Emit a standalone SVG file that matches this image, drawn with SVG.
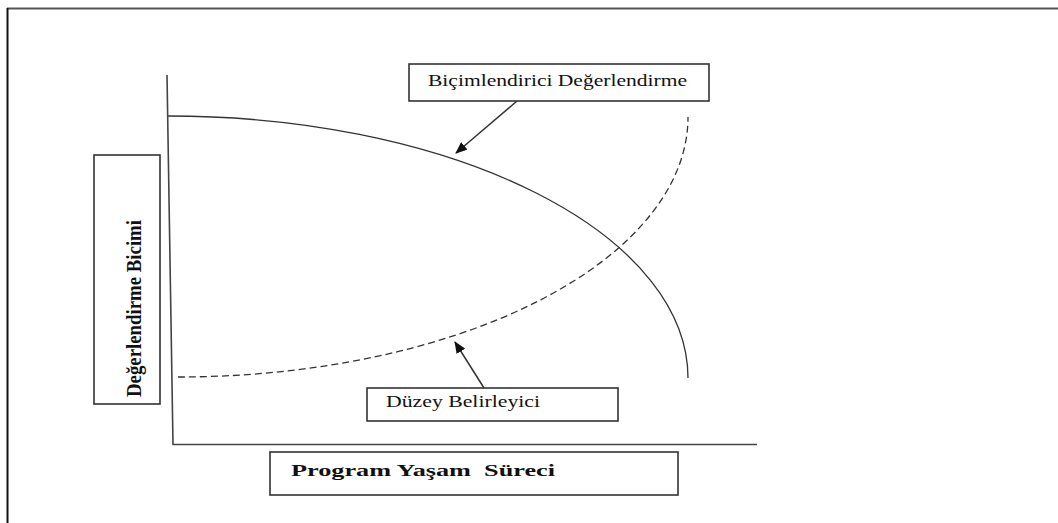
<svg xmlns="http://www.w3.org/2000/svg" width="1058" height="523" viewBox="0 0 1058 523">
  <defs>
    <marker id="arrowhead" viewBox="0 0 12 10" refX="11" refY="5" markerWidth="12" markerHeight="10" markerUnits="userSpaceOnUse" orient="auto">
      <path d="M0,0 L12,5 L0,10 Z" fill="#111"/>
    </marker>
    <style>
      .box { fill: #fff; stroke: #333; stroke-width: 1.6; }
      .axis { fill: none; stroke: #444; stroke-width: 1.6; }
      .curve { fill: none; stroke: #333; stroke-width: 1.3; }
      .dashed { stroke-dasharray: 7 4; }
      .pointer { fill: none; stroke: #333; stroke-width: 1.5; }
      .label { font-family: "Liberation Serif", "DejaVu Serif", serif; fill: #111; white-space: pre; }
      .bold { font-weight: bold; }
    </style>
  </defs>
  <rect width="1058" height="523" fill="#fff"/>

  <!-- page frame: top and left rules only -->
  <line x1="7" y1="8.5" x2="1058" y2="8.5" stroke="#555" stroke-width="2"/>
  <line x1="7.5" y1="8" x2="7.5" y2="523" stroke="#111" stroke-width="2"/>

  <!-- axes -->
  <g id="axes">
    <path class="axis" d="M167,75 L173,444.5 L757,444.5"/>
  </g>

  <!-- curves -->
  <g id="curves">
    <path id="formative-curve" class="curve" d="M168,116 A520,262 0 0 1 688,378"/>
    <path id="summative-curve" class="curve dashed" d="M178,377 A510,260 0 0 0 688,117"/>
  </g>

  <!-- callout pointers -->
  <g id="connectors">
    <line class="pointer" x1="517" y1="101" x2="456" y2="153" marker-end="url(#arrowhead)"/>
    <line class="pointer" x1="484" y1="388" x2="455" y2="342" marker-end="url(#arrowhead)"/>
  </g>

  <g id="node-bicimlendirici">
    <rect class="box" x="409" y="64" width="300" height="37"/>
    <text class="label" x="428" y="86" font-size="16" textLength="259" lengthAdjust="spacingAndGlyphs">Biçimlendirici Değerlendirme</text>
  </g>

  <g id="node-duzey">
    <rect class="box" x="367" y="388" width="251" height="33"/>
    <text class="label" x="386" y="407" font-size="16" textLength="154" lengthAdjust="spacingAndGlyphs">Düzey Belirleyici</text>
  </g>

  <g id="node-y-label">
    <rect class="box" x="94" y="155" width="66" height="249"/>
    <text class="label bold" transform="translate(141,397) rotate(-90)" x="0" y="0" font-size="22" textLength="177" lengthAdjust="spacingAndGlyphs">Değerlendirme Bicimi</text>
  </g>

  <g id="node-x-label">
    <rect class="box" x="270" y="452" width="408" height="43"/>
    <text class="label bold" x="291" y="476" font-size="17" textLength="264" lengthAdjust="spacingAndGlyphs">Program Yaşam  Süreci</text>
  </g>
</svg>
